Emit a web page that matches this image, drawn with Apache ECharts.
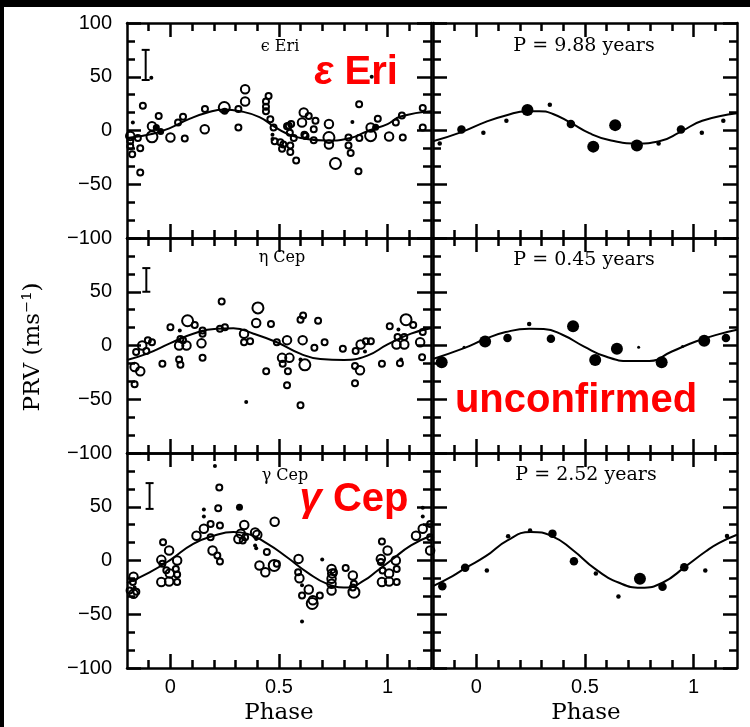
<!DOCTYPE html>
<html><head><meta charset="utf-8">
<script src="https://cdn.jsdelivr.net/npm/echarts@6/dist/echarts.min.js"></script>
<style>
html,body{margin:0;padding:0;background:#000;overflow:hidden;}
#bg{position:absolute;left:4px;top:7px;width:746px;height:720px;background:#fff;}
#chart{position:absolute;left:0;top:0;width:750px;height:727px;}
</style></head><body><div id="bg"></div><div id="chart"></div>
<script>
// ---------------- axis ticks ----------------
const phaseMin = -0.2, phaseMax = 1.2;
const phaseTicksMajor = [0, 0.5, 1];
const phaseTicksMinor = [-0.1, 0.1, 0.2, 0.3, 0.4, 0.6, 0.7, 0.8, 0.9, 1.1];
const prvMin = -100, prvMax = 100, prvStep = 50;

// ---------------- texts ----------------
const starNames = ['ϵ Eri', 'η Cep', 'γ Cep'];
const periodLabels = ['P = 9.88 years', 'P = 0.45 years', 'P = 2.52 years'];
const yTitle = 'PRV (ms⁻¹)';
const xTitle = 'Phase';

// ---------------- ε Eri : individual observations [phase, PRV] ----------------
const epsEriOpenS = [[-0.127,23],[-0.185,-10],[-0.185,-14.6],[-0.176,-22],[-0.139,-16.5],[-0.139,-39],[-0.15,-7],[-0.054,13.6],[0.035,7.4],[0.058,12.7],[0.066,-7.4],[0.159,20],[0.313,20],[0.313,2.8],[0.452,32],[0.44,27],[0.44,22],[0.44,18],[0.46,10.5],[0.475,2.8],[0.48,-10],[0.506,-11],[0.514,-17],[0.52,-13],[0.537,4],[0.545,4.4],[0.55,-2],[0.552,-14],[0.552,-20],[0.579,-28],[0.568,-7],[0.556,6],[0.637,13.6],[0.617,-4],[0.668,9],[0.66,1.2],[0.622,-5],[0.66,-9],[0.82,-6.5],[0.82,-14],[0.83,-21],[0.87,-7],[0.866,-38],[0.869,24.5],[0.955,11],[1.038,7.4],[1.066,14],[1.07,-6.5],[1.162,21],[1.162,2.8]];
const epsEriOpenM = [[-0.185,-5],[-0.085,4],[0,-6.5],[0.158,1.2],[0.344,38.4],[0.344,27],[0.614,16.7],[0.606,7.4],[0.73,6],[0.73,-13],[0.922,2.8],[1.007,-5.6]];
const epsEriOpenL = [[-0.085,-5.9],[0.248,21.4],[0.73,-6.5],[0.76,-30.7],[0.922,-4.8]];
const epsEriFilled = [[-0.065,2.8],[-0.045,-1],[0.25,18],[0.945,3]];
const epsEriDots = [[-0.173,7.4],[-0.088,49],[0.47,-4],[0.47,-8],[0.838,8],[0.927,50]];
const epsEriErr = [[-0.114,47,75]];
const epsEriFitLeft = [[-0.2,-7],[-0.08,-3],[0,2.5],[0.09,11],[0.167,16.5],[0.247,19.5],[0.32,18],[0.41,12.5],[0.475,4],[0.537,-3],[0.6,-7],[0.72,-9.4],[0.83,-7],[0.907,-0.6],[1,6],[1.06,13],[1.2,18]];
// ε Eri : binned
const epsEriBinS = [[-0.169,-12],[0.032,-2],[0.138,9],[0.338,24],[0.839,-12],[1.038,-2],[1.137,9]];
const epsEriBinM = [[-0.069,1],[0.435,6],[0.942,1]];
const epsEriBinL = [[0.235,19],[0.538,-15],[0.639,5],[0.739,-14]];
const epsEriFitRight = [[-0.2,-10],[-0.069,-1.5],[0.043,8],[0.135,14],[0.235,18],[0.289,18],[0.35,15.6],[0.435,7],[0.52,-2.5],[0.611,-8.8],[0.739,-12],[0.842,-10],[0.942,-1],[1.04,9],[1.2,16]];

// ---------------- η Cep ----------------
const etaCepOpenS = [[-0.165,-36],[-0.158,-6],[-0.104,5],[-0.085,3],[-0.111,-5],[-0.037,-17],[0,17],[0.046,6],[0.112,19],[0.148,14],[0.148,11],[0.058,5],[0.04,-13],[0.046,-18],[0.148,-11.5],[0.228,15.6],[0.251,17],[0.236,41],[0.339,3],[0.367,4],[0.463,20],[0.49,3],[0.441,-24],[0.517,-17],[0.541,-24],[0.537,-37],[0.599,24],[0.611,28],[0.68,23],[0.599,-55.6],[0.663,-2],[0.71,3],[0.794,-3],[0.853,-5],[0.9,4],[0.923,4],[0.85,-19],[0.85,-35],[0.974,-17],[1.01,18],[1.118,19],[1.046,8],[1.077,8],[1.057,-16.5],[1.159,-11],[1.162,12.5]];
const etaCepOpenM = [[-0.165,-20],[-0.139,-24],[-0.13,0],[0.04,0],[0.074,0],[0.143,2],[0.339,11],[0.395,21],[0.537,5],[0.514,-11.5],[0.548,-11.5],[0.609,5],[0.876,1],[0.873,-23],[1.041,1],[1.077,1],[1.15,3]];
const etaCepOpenL = [[0.079,23],[0.403,35],[0.619,-18],[1.085,24]];
const etaCepFilled = [];
const etaCepDots = [[0.043,14],[0.349,-52.5],[0.599,-13],[0.896,-5.6],[1.05,15],[1.062,-13],[1.17,15.6]];
const etaCepErr = [[-0.111,50,72]];
const etaCepFitLeft = [[-0.2,-13.4],[-0.11,-7.8],[0,2.2],[0.105,11],[0.213,15.6],[0.29,16],[0.383,11],[0.49,3],[0.6,-7.8],[0.69,-12.5],[0.8,-13.4],[0.907,-9.4],[1,1],[1.108,11],[1.2,16]];
const etaCepBinT = [[-0.057,-1.6],[0.747,-1.6],[0.949,-1]];
const etaCepBinS = [[0.243,20]];
const etaCepBinM = [[0.143,6.9],[0.343,6.3],[1.149,6.9]];
const etaCepBinL = [[-0.16,-15.6],[0.04,3.75],[0.445,17.8],[0.547,-13.4],[0.647,-3],[0.853,-15.6],[1.049,4.4]];
const etaCepFitRight = [[-0.2,-12.5],[-0.057,-2.5],[0.04,6],[0.135,12.5],[0.243,15.6],[0.31,15.3],[0.396,10],[0.496,-1],[0.596,-10.3],[0.704,-14.4],[0.796,-14.4],[0.9,-5.6],[1.01,3.75],[1.118,10.6],[1.2,14.7]];

// ---------------- γ Cep ----------------
const gamCepOpenS = [[-0.173,-20],[-0.188,-28],[-0.157,-29],[-0.034,17],[-0.037,-3],[0.025,-7.8],[0.031,-13],[0.031,-20],[-0.019,-9],[0.185,34],[0.228,32.6],[0.185,21.7],[0.216,4.7],[0.228,-1],[0.22,48.7],[0.225,68],[0.333,18.6],[0.344,21.7],[0.444,7.8],[0.49,-3],[0.588,-11],[0.606,-32.6],[0.688,-32.6],[0.753,-11],[0.807,-7],[0.845,-21.7],[0.84,-25],[0.974,17.7],[0.969,-1.5],[1.042,-7.8],[1.042,-20],[0.977,-9.3],[1.196,34],[1.196,21.7]];
const gamCepOpenM = [[-0.17,-15],[-0.17,-31],[-0.006,9.3],[-0.042,0.6],[-0.042,-20],[-0.003,-12],[-0.006,-19.5],[0.031,0],[0.12,23],[0.154,29.5],[0.194,9.3],[0.313,20],[0.324,25],[0.34,33],[0.39,26],[0.4,24],[0.48,36],[0.41,-4.6],[0.437,-11],[0.59,1.5],[0.594,-16.5],[0.637,-27],[0.656,-37],[0.742,-7.8],[0.745,-12],[0.742,-17],[0.742,-21.7],[0.742,-28],[0.84,-14],[1.0,9.3],[0.969,1.5],[1.038,0],[1.007,-12],[0.974,-20],[1.007,-19.5],[1.131,23],[1.162,29.5],[1.196,9.3]];
const gamCepOpenL = [[0.478,-4.6],[0.653,-40],[0.845,-29.5]];
const gamCepFilled = [[0.318,49.6]];
const gamCepDots = [[-0.165,-25],[0.154,47.4],[0.154,41],[0.205,88],[0.606,-23],[0.606,-56.7],[0.699,1],[1.162,49],[1.162,41],[0.395,20],[0.39,14],[0.395,11.5]];
const gamCepErr = [[-0.096,48,72]];
const gamCepFitLeft = [[-0.2,-21],[-0.096,-11],[0,0.6],[0.105,15.5],[0.2,23],[0.29,26.4],[0.352,25],[0.444,16],[0.537,3],[0.63,-11],[0.722,-21.7],[0.815,-25],[0.892,-18.6],[0.954,-9.3],[1.015,0],[1.108,14],[1.2,23]];
const gamCepBinS = [[0.048,-9.3],[0.146,22.5],[0.247,28],[0.55,-12],[0.654,-33.6],[1.054,-9.3],[1.154,22.8]];
const gamCepBinM = [[-0.157,-24],[-0.052,-6.8],[0.35,25],[0.449,-0.6],[0.857,-24.4],[0.957,-6.2]];
const gamCepBinL = [[0.753,-17]];
const gamCepFitRight = [[-0.2,-23.8],[-0.11,-14.5],[-0.049,-6.8],[0.043,4],[0.143,18.8],[0.25,26.5],[0.35,22.5],[0.442,10],[0.55,-8.3],[0.657,-20.7],[0.757,-25.3],[0.857,-20.7],[0.965,-5.2],[1.057,8.6],[1.118,16.4],[1.2,24]];

// ---------------- build ----------------
const rowsTop = [23, 238, 453], colsLeft = [127, 433];
const PW = 304, PH = 215;
const BLACK = '#000';
const open = (s) => ({symbolSize: s, itemStyle: {color: 'rgba(0,0,0,0)', borderColor: BLACK, borderWidth: 2, opacity: 1}});
const fill = (s) => ({symbolSize: s, itemStyle: {color: BLACK, opacity: 1}});
const markStyles = {
  openS: open(6), openM: open(8.5), openL: open(11),
  dot: fill(4), fillM: fill(7),
  binT: fill(3), binS: fill(4.5), binM: fill(8.5), binL: fill(12)
};

const panels = [
  {row:0, col:0, marks:[['openS',epsEriOpenS],['openM',epsEriOpenM],['openL',epsEriOpenL],['fillM',epsEriFilled],['dot',epsEriDots]], fit:epsEriFitLeft, err:epsEriErr},
  {row:0, col:1, marks:[['binS',epsEriBinS],['binM',epsEriBinM],['binL',epsEriBinL]], fit:epsEriFitRight},
  {row:1, col:0, marks:[['openS',etaCepOpenS],['openM',etaCepOpenM],['openL',etaCepOpenL],['fillM',etaCepFilled],['dot',etaCepDots]], fit:etaCepFitLeft, err:etaCepErr},
  {row:1, col:1, marks:[['binT',etaCepBinT],['binS',etaCepBinS],['binM',etaCepBinM],['binL',etaCepBinL]], fit:etaCepFitRight},
  {row:2, col:0, marks:[['openS',gamCepOpenS],['openM',gamCepOpenM],['openL',gamCepOpenL],['fillM',gamCepFilled],['dot',gamCepDots]], fit:gamCepFitLeft, err:gamCepErr},
  {row:2, col:1, marks:[['binS',gamCepBinS],['binM',gamCepBinM],['binL',gamCepBinL]], fit:gamCepFitRight}
];

const grid = [], xAxis = [], yAxis = [], series = [];
const lineSt = {color: BLACK, width: 2.5};
const fmtNum = v => (v < 0 ? '\u2212' + (-v) : String(v));

function makeX(gi, pos, ticks, len, withLine, withLabel) {
  return {
    type: 'value', gridIndex: gi, position: pos, min: phaseMin, max: phaseMax,
    axisLine: {show: withLine, onZero: false, lineStyle: lineSt},
    axisTick: {show: true, inside: true, length: len, customValues: ticks, lineStyle: lineSt},
    axisLabel: withLabel ? {show: true, customValues: phaseTicksMajor, margin: 9,
      fontFamily: '"Liberation Sans", Arial, sans-serif', fontSize: 20, color: BLACK,
      formatter: v => String(v)} : {show: false},
    splitLine: {show: false}
  };
}
function makeY(gi, pos, withLabel, showMax) {
  return {
    type: 'value', gridIndex: gi, position: pos, min: prvMin, max: prvMax, interval: prvStep,
    axisLine: {show: true, onZero: false, lineStyle: lineSt},
    axisTick: {show: true, inside: true, length: 14, lineStyle: lineSt},
    minorTick: {show: true, splitNumber: 3, length: 8, lineStyle: lineSt},
    axisLabel: withLabel ? {show: true, showMaxLabel: showMax, showMinLabel: true, margin: 15,
      fontFamily: '"Liberation Sans", Arial, sans-serif', fontSize: 20, color: BLACK,
      formatter: fmtNum} : {show: false},
    splitLine: {show: false}, minorSplitLine: {show: false}
  };
}

panels.forEach((p, gi) => {
  grid.push({left: colsLeft[p.col], top: rowsTop[p.row], width: PW, height: PH});
  const xi = xAxis.length, yi = yAxis.length;
  xAxis.push(makeX(gi, 'bottom', phaseTicksMajor, 14, true, p.row === 2));
  xAxis.push(makeX(gi, 'bottom', phaseTicksMinor, 8, false, false));
  xAxis.push(makeX(gi, 'top', phaseTicksMajor, 14, true, false));
  xAxis.push(makeX(gi, 'top', phaseTicksMinor, 8, false, false));
  yAxis.push(makeY(gi, 'left', p.col === 0, p.row === 0));
  yAxis.push(makeY(gi, 'right', false, false));
  series.push({
    type: 'line', xAxisIndex: xi, yAxisIndex: yi, data: p.fit, smooth: 0.5,
    showSymbol: false, lineStyle: {color: BLACK, width: 2}, z: 3, silent: true
  });
  p.marks.forEach(([kind, data]) => {
    const st = markStyles[kind];
    series.push({
      type: 'scatter', xAxisIndex: xi, yAxisIndex: yi, data: data, symbol: 'circle',
      symbolSize: st.symbolSize, itemStyle: st.itemStyle, z: 4, silent: true
    });
  });
  if (p.err) {
    series.push({
      type: 'custom', xAxisIndex: xi, yAxisIndex: yi, data: p.err, z: 5, silent: true,
      renderItem: (params, api) => {
        const x = api.value(0);
        const lo = api.coord([x, api.value(1)]);
        const hi = api.coord([x, api.value(2)]);
        const st = {stroke: BLACK, lineWidth: 2};
        return {type: 'group', children: [
          {type: 'line', shape: {x1: lo[0], y1: lo[1], x2: hi[0], y2: hi[1]}, style: st},
          {type: 'line', shape: {x1: lo[0] - 4, y1: lo[1], x2: lo[0] + 4, y2: lo[1]}, style: st},
          {type: 'line', shape: {x1: hi[0] - 4, y1: hi[1], x2: hi[0] + 4, y2: hi[1]}, style: st}
        ]};
      }
    });
  }
});

const serif = '"DejaVu Serif", "Liberation Serif", serif';
const sansB = '"Liberation Sans", Arial, sans-serif';
const graphic = [
  {type:'text', x:280, y:47, style:{text:starNames[0], font:'16px ' + serif, fill:BLACK, align:'center', verticalAlign:'middle'}},
  {type:'text', x:282, y:258, style:{text:starNames[1], font:'16px ' + serif, fill:BLACK, align:'center', verticalAlign:'middle'}},
  {type:'text', x:285, y:476, style:{text:starNames[2], font:'16px ' + serif, fill:BLACK, align:'center', verticalAlign:'middle'}},
  {type:'text', x:584, y:46, style:{text:periodLabels[0], font:'19px ' + serif, fill:BLACK, align:'center', verticalAlign:'middle'}},
  {type:'text', x:584, y:260, style:{text:periodLabels[1], font:'19px ' + serif, fill:BLACK, align:'center', verticalAlign:'middle'}},
  {type:'text', x:586, y:475, style:{text:periodLabels[2], font:'19px ' + serif, fill:BLACK, align:'center', verticalAlign:'middle'}},
  {type:'text', x:33, y:347, rotation: Math.PI / 2, style:{text:yTitle, font:'23px ' + serif, fill:BLACK, align:'center', verticalAlign:'middle'}},
  {type:'text', x:279, y:713, style:{text:xTitle, font:'23px ' + serif, fill:BLACK, align:'center', verticalAlign:'middle'}},
  {type:'text', x:586, y:713, style:{text:xTitle, font:'23px ' + serif, fill:BLACK, align:'center', verticalAlign:'middle'}},
  {type:'text', x:356, y:73, z:10, style:{text:'{g|ε }{t|Eri}', align:'center', verticalAlign:'middle',
    rich:{g:{font:'italic bold 40px ' + sansB, fill:'#ff0000'}, t:{font:'bold 40px ' + sansB, fill:'#ff0000'}}}},
  {type:'text', x:576, y:401, z:10, style:{text:'unconfirmed', font:'bold 40px ' + sansB, fill:'#ff0000', align:'center', verticalAlign:'middle'}},
  {type:'text', x:354, y:500, z:10, style:{text:'{g|γ }{t|Cep}', align:'center', verticalAlign:'middle',
    rich:{g:{font:'italic bold 40px ' + sansB, fill:'#ff0000'}, t:{font:'bold 40px ' + sansB, fill:'#ff0000'}}}}
];

const chart = echarts.init(document.getElementById('chart'), null, {renderer: 'canvas'});
chart.setOption({
  animation: false,
  backgroundColor: 'transparent',
  grid, xAxis, yAxis, series, graphic
});
</script></body></html>
